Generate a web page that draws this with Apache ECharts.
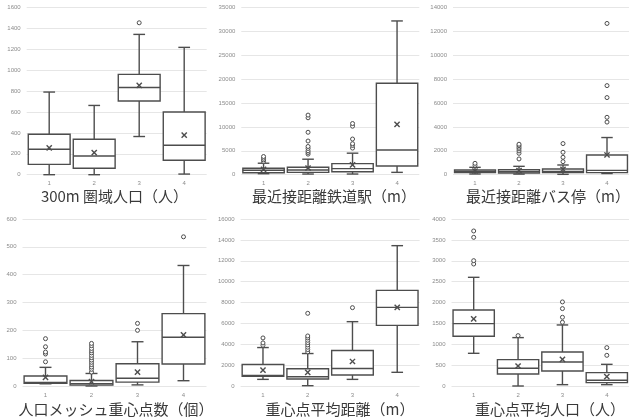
<!DOCTYPE html>
<html><head><meta charset="utf-8">
<script src="https://cdn.jsdelivr.net/npm/echarts@6/dist/echarts.min.js"></script>
<style>html,body{margin:0;padding:0;background:#fff}#c{width:629px;height:418px}</style>
</head><body><div id="c"></div>
<script>
// ---- data ----
const categories = ['1', '2', '3', '4'];
const titles = ['300m 圏域人口（人）', '最近接距離鉄道駅（m）', '最近接距離バス停（m）',
                '人口メッシュ重心点数（個）', '重心点平均距離（m）', '重心点平均人口（人）'];

// [min, Q1, median, Q3, max]
const p1Box = [[0, 99, 243, 387, 790], [0, 61, 179, 339, 662], [365, 704, 834, 959, 1341], [6, 138, 282, 599, 1217]];
const p1Mean = [256, 211, 854, 378];
const p1Out = [[], [], [1452], []];
const p1Axis = [1600, 200];

const p2Box = [[210, 420, 915, 1340, 2400], [140, 490, 985, 1550, 3240], [140, 630, 1270, 2320, 4500], [490, 1813, 5160, 19107, 32148]];
const p2Mean = [1130, 1400, 2040, 10530];
const p2Out = [[2750, 3100, 3450, 3800], [4300, 4650, 5000, 5490, 5900, 7040, 8870, 11900, 12460], [5560, 6120, 6480, 7460, 10140, 10700], []];
const p2Axis = [35000, 5000];

const p3Box = [[60, 170, 280, 390, 616], [50, 140, 250, 420, 700], [30, 170, 280, 476, 812], [100, 170, 364, 1652, 3108]];
const p3Mean = [308, 336, 448, 1650];
const p3Out = [[784, 952], [1316, 1790, 1988, 2156, 2296, 2436, 2548], [1092, 1456, 1876, 2604], [4400, 4800, 6450, 7450, 12650]];
const p3Axis = [14000, 2000];

const p4Box = [[8, 10, 13, 36, 67], [0, 3, 8, 20, 45], [4, 14, 28, 80, 159], [19, 79, 175, 260, 433]];
const p4Mean = [31, 16, 50, 184];
const p4Out = [[87, 115, 122, 141, 170], [50, 60, 68, 77, 85, 93, 102, 110, 119, 127, 135, 145, 153], [200, 225], [536]];
const p4Axis = [600, 100];

const p5Box = [[635, 920, 1016, 2063, 3683], [30, 667, 889, 1651, 3111], [635, 1048, 1683, 3397, 6164], [1310, 5813, 7537, 9166, 13446]];
const p5Mean = [1524, 1302, 2350, 7537];
const p5Out = [[3905, 4127, 4604], [3270, 3490, 3715, 3937, 4160, 4381, 4604, 4794, 6963], [7505], []];
const p5Axis = [16000, 2000];

const p6Box = [[783, 1190, 1494, 1822, 2603], [0, 288, 424, 631, 1159], [32, 360, 575, 815, 1462], [32, 80, 136, 320, 519]];
const p6Mean = [1606, 479, 639, 224];
const p6Out = [[2922, 3002, 3561, 3713], [1206], [1526, 1646, 1854, 2014], [735, 919]];
const p6Axis = [4000, 500];

// ---- layout (positions only) ----
const panels = [
  [p1Box, p1Mean, p1Out, p1Axis], [p2Box, p2Mean, p2Out, p2Axis], [p3Box, p3Mean, p3Out, p3Axis],
  [p4Box, p4Mean, p4Out, p4Axis], [p5Box, p5Mean, p5Out, p5Axis], [p6Box, p6Mean, p6Out, p6Axis]
];
const layout = [
  {left: 26.7, top: 7.3, width: 180, height: 167.4, tx: 114.5, ty: 196},
  {left: 241.3, top: 7.3, width: 178, height: 167.4, tx: 334, ty: 196},
  {left: 453, top: 7.3, width: 179, height: 167.4, tx: 548, ty: 196},
  {left: 22.5, top: 219, width: 184, height: 167, tx: 116, ty: 409},
  {left: 240.6, top: 219, width: 179, height: 167, tx: 340, ty: 409},
  {left: 451.5, top: 219, width: 180, height: 167, tx: 550, ty: 409}
];

const STROKE = '#4d4d4d';
function renderBox(params, api) {
  const j = api.value(0);
  const c = v => api.coord([j, v]);
  const pMin = c(api.value(1)), pQ1 = c(api.value(2)), pMed = c(api.value(3)),
        pQ3 = c(api.value(4)), pMax = c(api.value(5)), pMean = c(api.value(6));
  const cx = pMed[0];
  const band = api.size([1, 0])[0];
  const bw = band * 0.93, hw = bw / 2, cap = bw * 0.14;
  const st = {stroke: STROKE, lineWidth: 1.4};
  const line = (x1, y1, x2, y2) => ({type: 'line', shape: {x1, y1, x2, y2}, style: st});
  const m = 2.6;
  return {type: 'group', children: [
    line(cx, pQ3[1], cx, pMax[1]), line(cx - cap, pMax[1], cx + cap, pMax[1]),
    line(cx, pQ1[1], cx, pMin[1]), line(cx - cap, pMin[1], cx + cap, pMin[1]),
    {type: 'rect', shape: {x: cx - hw, y: pQ3[1], width: bw, height: pQ1[1] - pQ3[1]},
     style: {fill: '#fff', stroke: STROKE, lineWidth: 1.4}},
    line(cx - hw, pMed[1], cx + hw, pMed[1]),
    line(pMean[0] - m, pMean[1] - m, pMean[0] + m, pMean[1] + m),
    line(pMean[0] - m, pMean[1] + m, pMean[0] + m, pMean[1] - m)
  ]};
}

const grid = [], xAxis = [], yAxis = [], series = [], graphic = [];
panels.forEach((p, i) => {
  const [box, mean, out, ax] = p;
  const L = layout[i];
  grid.push({left: L.left, top: L.top, width: L.width, height: L.height, containLabel: false});
  xAxis.push({type: 'category', gridIndex: i, data: categories,
    axisLine: {show: false}, axisTick: {show: false}, splitLine: {show: false},
    axisLabel: {fontSize: 6, color: '#8c8c8c', margin: 6}});
  yAxis.push({type: 'value', gridIndex: i, min: 0, max: ax[0], interval: ax[1],
    axisLine: {show: false}, axisTick: {show: false},
    axisLabel: {fontSize: 6, color: '#8c8c8c', margin: 6, formatter: v => String(v)},
    splitLine: {lineStyle: {color: '#e6e6e6', width: 1}}});
  series.push({type: 'custom', xAxisIndex: i, yAxisIndex: i, renderItem: renderBox,
    encode: {x: 0, y: [1, 2, 3, 4, 5, 6]},
    data: box.map((b, j) => [j, ...b, mean[j]]), z: 2});
  const od = [];
  out.forEach((arr, j) => arr.forEach(v => od.push([j, v])));
  series.push({type: 'scatter', xAxisIndex: i, yAxisIndex: i, symbol: 'circle', symbolSize: 4,
    itemStyle: {color: '#fff', borderColor: STROKE, borderWidth: 1, opacity: 1}, data: od, z: 3});
  graphic.push({type: 'text', x: L.tx, y: L.ty,
    style: {text: titles[i], fill: '#3a3a3a', font: '15px "Noto Sans CJK JP", sans-serif',
            align: 'center', verticalAlign: 'middle'}});
});

const chart = echarts.init(document.getElementById('c'), null, {renderer: 'canvas'});
chart.setOption({
  animation: false,
  backgroundColor: '#fff',
  textStyle: {fontFamily: '"Liberation Sans", "Noto Sans CJK JP", sans-serif'},
  grid, xAxis, yAxis, series, graphic
});
</script></body></html>
